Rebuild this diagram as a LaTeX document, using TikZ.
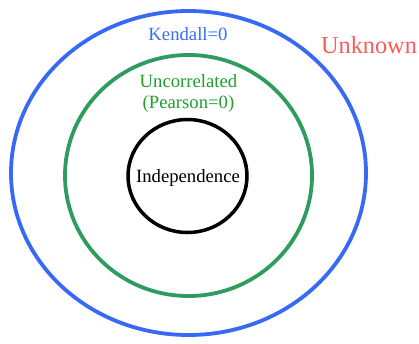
\documentclass[tikz,border=0pt]{standalone}
\usepackage{fontspec}
\setmainfont{Liberation Serif}
\usetikzlibrary{shapes.geometric}
\definecolor{ringblue}{RGB}{55,105,245}
\definecolor{ringgreen}{RGB}{46,155,95}
\definecolor{txtgreen}{RGB}{30,160,45}
\definecolor{txtblue}{RGB}{55,110,245}
\definecolor{txtred}{RGB}{250,90,90}
\begin{document}
\begin{tikzpicture}[x=1pt,y=-1pt,
  ring/.style={ellipse,inner sep=0pt,line width=3.8pt,draw},
  lbl/.style={font=\fontsize{18.7}{21.5}\selectfont,inner sep=0pt,anchor=base}]
\useasboundingbox (0,0) rectangle (419,343);
\node[ring,draw=ringblue,minimum width=355pt,minimum height=324pt] (outer) at (188.5,173) {};
\node[ring,draw=ringgreen,minimum width=247pt,minimum height=241pt] (mid) at (188.5,175.5) {};
\node[ring,draw=black,line width=3.5pt,minimum width=119pt,minimum height=113pt] (inner) at (187.5,176) {};
\node[lbl,text=black] (indep) at (188,182.5) {Independence};
\node[lbl,text=txtblue] (kendall) at (188,40) {Kendall=0};
\node[lbl,text=txtgreen,align=center] (uncor) at (188.5,108.5) {Uncorrelated\\(Pearson=0)};
\node[lbl,text=txtred,font=\fontsize{24.3}{28}\selectfont] (unknown) at (369,53) {Unknown};
\end{tikzpicture}
\end{document}
